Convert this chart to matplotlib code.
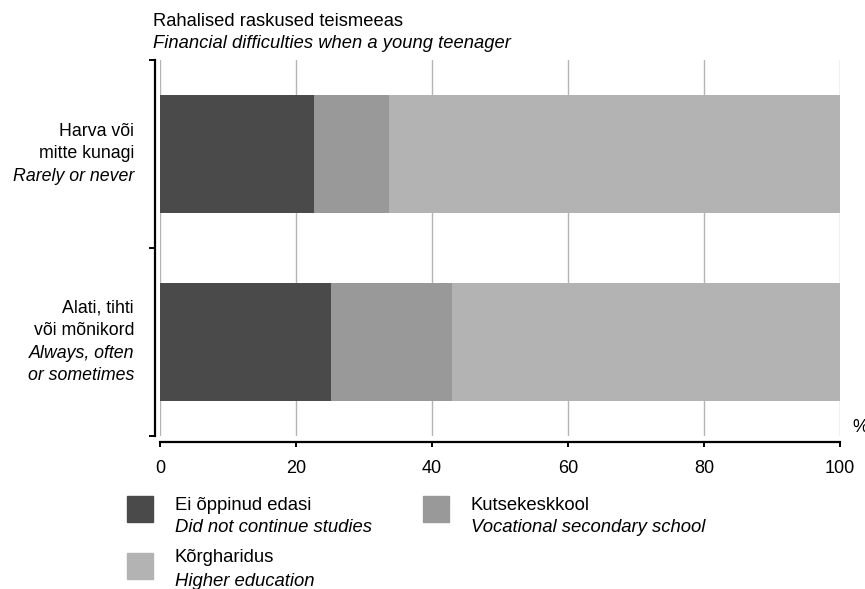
import matplotlib
matplotlib.use("Agg")
import matplotlib.pyplot as plt
from matplotlib.patches import Rectangle
from matplotlib.transforms import offset_copy

plt.rcParams['font.family'] = ['Liberation Sans', 'DejaVu Sans']

# Data (bottom to top)
cat_et = [["Alati, tihti", "või mõnikord"], ["Harva või", "mitte kunagi"]]
cat_en = [["Always, often", "or sometimes"], ["Rarely or never"]]
series_et = ["Ei õppinud edasi", "Kutsekeskkool", "Kõrgharidus"]
series_en = ["Did not continue studies", "Vocational secondary school", "Higher education"]
not_continued = [25.1, 22.7]
vocational = [17.8, 11.0]
higher = [57.1, 66.3]
colors = ["#4a4a4a", "#999999", "#b3b3b3"]
xticks = [0, 20, 40, 60, 80, 100]
title_et = "Rahalised raskused teismeeas"
title_en = "Financial difficulties when a young teenager"

FS_TITLE = 13.2
FS_YLAB = 12.8
FS_TICK = 13
FS_LEG = 13.3
W, H = 865, 589
fig = plt.figure(figsize=(W / 100, H / 100), dpi=100)
ax = fig.add_axes([160 / W, 1 - 436 / H, 680 / W, 376 / H])

ypos = list(range(len(not_continued)))
left = [0] * len(ypos)
for vals, c in zip([not_continued, vocational, higher], colors):
    ax.barh(ypos, vals, left=left, height=0.63, color=c, zorder=2)
    left = [a + b for a, b in zip(left, vals)]

ax.set_xlim(0, 100)
ax.set_ylim(-0.5, len(ypos) - 0.5)
ax.set_xticks(xticks)
ax.set_xticklabels([str(t) for t in xticks])
ax.set_yticks([-0.5 + i for i in range(len(ypos) + 1)])
ax.set_yticklabels([])
ax.grid(axis='x', color='#b4b4b4', linewidth=1.0, zorder=0)
ax.set_axisbelow(True)

for s in ['top', 'right']:
    ax.spines[s].set_visible(False)
ax.spines['left'].set_position(('outward', 3.6))
ax.spines['bottom'].set_position(('outward', 4.3))
ax.spines['left'].set_linewidth(1.6)
ax.spines['bottom'].set_linewidth(1.6)
ax.tick_params(axis='y', direction='out', length=4.5, width=1.4)
ax.tick_params(axis='x', direction='out', length=3.8, width=1.4, pad=9.0, labelsize=FS_TICK)

# Category labels
ytr = ax.get_yaxis_transform()
for i, (et, en) in enumerate(zip(cat_et, cat_en)):
    lines = [(t, 'normal') for t in et] + [(t, 'italic') for t in en]
    n = len(lines)
    for j, (t, st) in enumerate(lines):
        dy = ((n - 1) / 2 - j) * 22.5 * 0.72
        tr = offset_copy(ytr, fig=fig, x=0, y=dy, units='points')
        ax.text(-26 / 680, ypos[i], t, transform=tr, ha='right', va='center',
                fontsize=FS_YLAB, style=st)

# Title
fig.text(153 / W, 1 - 21.5 / H, title_et, fontsize=FS_TITLE, ha='left', va='center')
fig.text(153 / W, 1 - 44 / H, title_en, fontsize=FS_TITLE, ha='left', va='center', style='italic')

# percent sign
ax.text(1 + 12 / 680, 8 / 376, "%", transform=ax.transAxes, fontsize=FS_TICK,
        ha='left', va='center')

# Legend (manual): square x, square center y, text x, text line1 y, text line2 y
legend_pos = [(127, 509, 175, 505, 528), (423, 509, 471, 505, 528), (127, 566, 175, 558, 582)]
for (sx, sy, tx, t1, t2), et, en, c in zip(legend_pos, series_et, series_en, colors):
    fig.patches.append(Rectangle((sx / W, 1 - (sy + 13) / H), 26 / W, 26 / H,
                                 transform=fig.transFigure, color=c))
    fig.text(tx / W, 1 - t1 / H, et, fontsize=FS_LEG, ha='left', va='center')
    fig.text(tx / W, 1 - t2 / H, en, fontsize=FS_LEG, ha='left', va='center', style='italic')

fig.savefig("out.png", dpi=100)
